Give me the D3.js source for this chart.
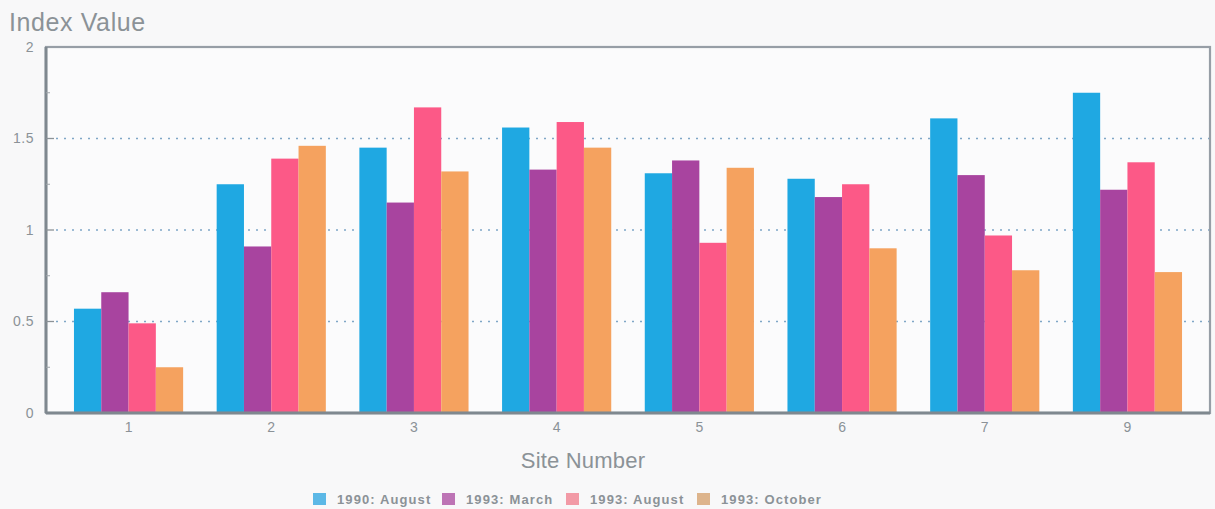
<!DOCTYPE html>
<html><head><meta charset="utf-8">
<script src="https://cdn.jsdelivr.net/npm/d3@7"></script>
<style>
html,body{margin:0;padding:0;background:#f8f8f9;}
svg{display:block;}
text{font-family:"Liberation Sans",Arial,sans-serif;}
</style></head>
<body>
<svg id="chart" width="1215" height="509"></svg>
<script>
const categories = ["1","2","3","4","5","6","7","9"];
const seriesNames = ["1990: August","1993: March","1993: August","1993: October"];
const aug1990 = [0.57,1.25,1.45,1.56,1.31,1.28,1.61,1.75];
const mar1993 = [0.66,0.91,1.15,1.33,1.38,1.18,1.30,1.22];
const aug1993 = [0.49,1.39,1.67,1.59,0.93,1.25,0.97,1.37];
const oct1993 = [0.25,1.46,1.32,1.45,1.34,0.90,0.78,0.77];
const yTicks = [0,0.5,1,1.5,2];
const yTickLabels = ["0","0.5","1","1.5","2"];
const minorTicks = [0.25,0.75,1.25,1.75];

(function(){
const seriesValues = [aug1990, mar1993, aug1993, oct1993];
const barColors = ["#1fa8e2","#a8449f","#fc5987","#f5a25f"];
const swatchColors = ["#5cb8e6","#bd74b5","#f29aa6","#ddb48c"];
const textColor = "#8b9297";

const svg = d3.select("#chart");
const pL = 46, pR = 1210, pT = 47, pB = 413;

const x = d3.scaleBand().domain(categories).range([pL, pR]).paddingInner(0.235).paddingOuter(0.196);
const xs = d3.scaleBand().domain(seriesNames).range([0, x.bandwidth()]);
const y = d3.scaleLinear().domain([0,2]).range([pB, pT]);

svg.append("rect").attr("x", pL).attr("y", pT).attr("width", pR-pL).attr("height", pB-pT)
  .attr("fill", "#fbfbfc");

svg.append("g").selectAll("line").data([0.5,1,1.5]).join("line")
  .attr("x1", pL+10).attr("x2", pR).attr("y1", d=>y(d)).attr("y2", d=>y(d))
  .attr("stroke", "#7fa6c6").attr("stroke-width", 1.4).attr("stroke-dasharray", "2,6");

const groups = svg.append("g").selectAll("g").data(categories).join("g")
  .attr("transform", c => `translate(${x(c)},0)`);
groups.selectAll("rect").data((c,i) => seriesNames.map((s,j) => ({s, v: seriesValues[j][i], j})))
  .join("rect")
  .attr("x", d => xs(d.s)).attr("width", xs.bandwidth())
  .attr("y", d => y(d.v)).attr("height", d => y(0) - y(d.v))
  .attr("fill", d => barColors[d.j]);

svg.append("rect").attr("x", pL).attr("y", pT).attr("width", pR-pL).attr("height", pB-pT)
  .attr("fill", "none").attr("stroke", "#979ea6").attr("stroke-width", 2.2);
svg.append("line").attr("x1", pL).attr("x2", pR).attr("y1", pB).attr("y2", pB)
  .attr("stroke", "#7f888f").attr("stroke-width", 3);
svg.append("line").attr("x1", pL).attr("x2", pL).attr("y1", pT).attr("y2", pB)
  .attr("stroke", "#7f888f").attr("stroke-width", 3);

svg.append("g").selectAll("line").data([0.5,1,1.5]).join("line")
  .attr("x1", pL).attr("x2", pL+8).attr("y1", d=>y(d)).attr("y2", d=>y(d))
  .attr("stroke", "#8b9297").attr("stroke-width", 1.3);
svg.append("g").selectAll("line").data(minorTicks).join("line")
  .attr("x1", pL).attr("x2", pL+4).attr("y1", d=>y(d)).attr("y2", d=>y(d))
  .attr("stroke", "#a0a6ab").attr("stroke-width", 1);

const yAxis = d3.axisLeft(y).tickValues(yTicks).tickFormat((d,i)=>yTickLabels[i]).tickSize(0).tickPadding(12);
const gy = svg.append("g").attr("transform", `translate(${pL},0)`).call(yAxis);
gy.select(".domain").remove();
gy.selectAll("text").attr("fill", textColor).attr("font-size", 14).attr("letter-spacing", 0.5);

const xAxis = d3.axisBottom(x).tickSize(0).tickPadding(9);
const gx = svg.append("g").attr("transform", `translate(0,${pB})`).call(xAxis);
gx.select(".domain").remove();
gx.selectAll("text").attr("fill", textColor).attr("font-size", 14);
gx.attr("font-family", null); gy.attr("font-family", null);

svg.append("text").attr("x", 9).attr("y", 31).text("Index Value")
  .attr("fill", textColor).attr("font-size", 25).attr("letter-spacing", 0.6);
svg.append("text").attr("x", 583).attr("y", 468).attr("text-anchor", "middle").text("Site Number")
  .attr("fill", textColor).attr("font-size", 22).attr("letter-spacing", 0.2);

const legendX = [313, 442, 566, 697];
const lg = svg.append("g").selectAll("g").data(seriesNames).join("g")
  .attr("transform", (d,i) => `translate(${legendX[i]},493)`);
lg.append("rect").attr("width", 13).attr("height", 12).attr("fill", (d,i)=>swatchColors[i]);
lg.append("text").attr("x", 24).attr("y", 11).text(d=>d)
  .attr("fill", textColor).attr("font-size", 13).attr("font-weight", "bold").attr("letter-spacing", 1.1);
})();
</script>
</body></html>
